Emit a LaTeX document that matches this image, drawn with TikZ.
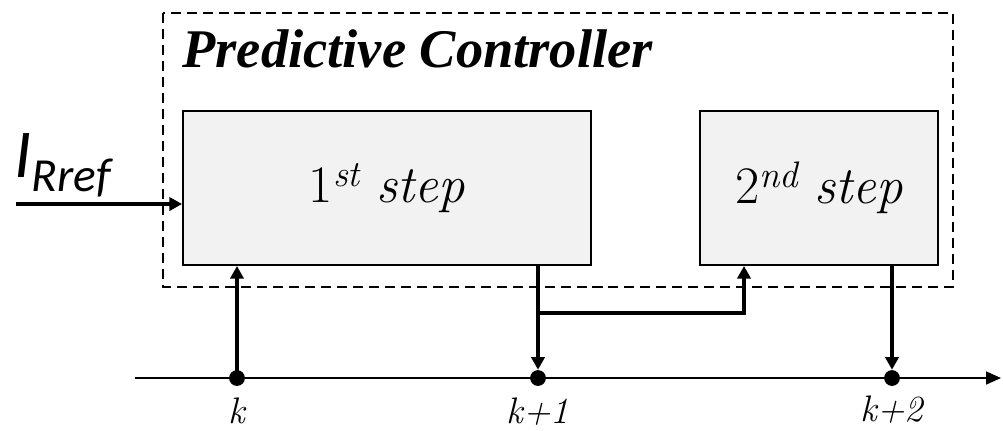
\documentclass[tikz,border=0pt]{standalone}
\usepackage{fontspec}
\usepackage{xcolor}
\usepackage{tikz}
\usetikzlibrary{arrows.meta,positioning}
\newfontfamily\labelfont{Carlito}
\newfontfamily\titlefont{Liberation Serif}
\definecolor{ink}{HTML}{000000}
\definecolor{boxfill}{HTML}{F2F2F2}

\begin{document}
\begin{tikzpicture}[x=0.02cm,y=-0.02cm,
    >={Triangle[length=7.2pt,width=7.5pt]},
    stepbox/.style={draw=ink,line width=1.1pt,fill=boxfill,minimum height=3.08cm,inner sep=0pt,
      font=\fontsize{30}{32}\selectfont},
    conn/.style={->,line width=2pt,ink},
    tick/.style={circle,fill=ink,inner sep=0pt,minimum size=9pt},
    ticklabel/.style={inner sep=0pt,font=\fontsize{21}{23}\selectfont\itshape}]
  \useasboundingbox (0,0) rectangle (1003,430);
  % controller frame
  \draw[ink,line width=1.1pt,dash pattern=on 5.7pt off 3.4pt] (163,13) rectangle (953,287);
  \node[anchor=base west,inner sep=0pt,font=\titlefont\fontsize{31}{33}\selectfont\bfseries\itshape] (title) at (182,67) {Predictive Controller};
  \node[stepbox,minimum width=8.16cm] (s1) at (387,188) {1\textsuperscript{\itshape st} \textit{step}};
  \node[stepbox,minimum width=4.76cm] (s2) at (819,188) {2\textsuperscript{\itshape nd} \textit{step}};
  % time axis
  \coordinate (t0) at (135,378);
  \coordinate (tend) at (1001,378);
  \draw[ink,line width=0.85pt,-{Triangle[length=8.5pt,width=7.4pt]}] (t0) -- (tend);
  \node[tick] (k0) at (237,378) {};
  \node[tick] (k1) at (538,378) {};
  \node[tick] (k2) at (892,378) {};
  \node[ticklabel,below=0.22cm of k0] {k};
  \node[ticklabel,below=0.22cm of k1] {k+1};
  \node[ticklabel,below=0.18cm of k2] {k+2};
  % input
  \coordinate (iref) at (16,204);
  \node[anchor=base west,inner sep=0pt,font=\labelfont\itshape\fontsize{39}{40}\selectfont] (irefl) at (14,177) {I\raisebox{-8.5pt}{\fontsize{27}{28}\selectfont Rref}};
  \draw[conn] (iref) -- (iref -| s1.west);
  % connections
  \draw[conn] (k0.center) -- (k0 |- s1.south);
  \draw[conn] (s1.south -| k1) -- (k1.north);
  \coordinate (br) at (538,313);
  \draw[conn] (br) -| (s2.south -| 744,0);
  \draw[conn] (s2.south -| k2) -- (k2.north);
\end{tikzpicture}
\end{document}
